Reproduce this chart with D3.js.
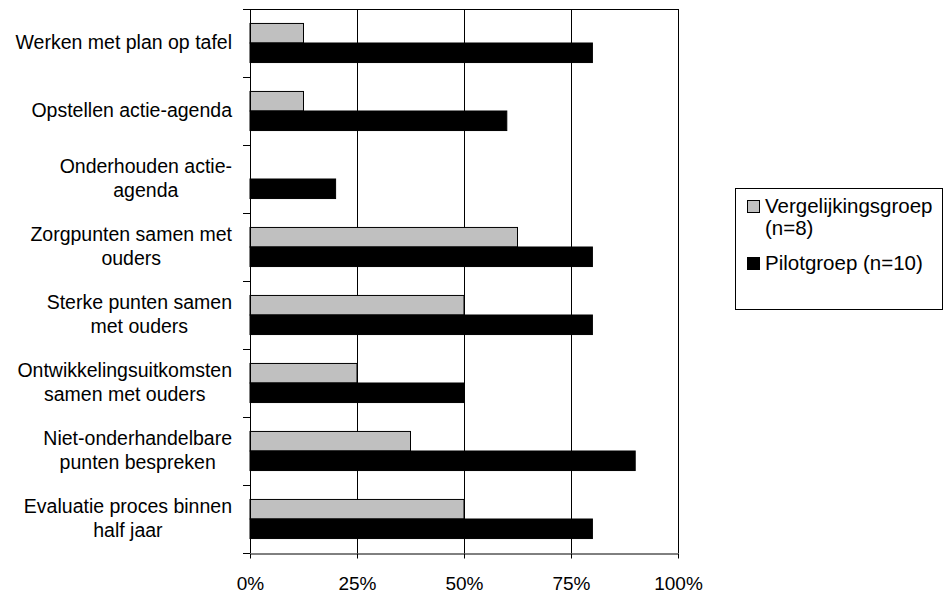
<!DOCTYPE html>
<html><head><meta charset="utf-8">
<script src="https://cdn.jsdelivr.net/npm/d3@7"></script>
<style>body{margin:0;background:#fff}svg{display:block}text{font-family:"Liberation Sans",Arial,sans-serif;fill:#000}</style>
</head><body>
<svg id="c" width="944" height="596"></svg>
<script>
const categories = [
  ["Werken met plan op tafel"],
  ["Opstellen actie-agenda"],
  ["Onderhouden actie-", "agenda"],
  ["Zorgpunten samen met", "ouders"],
  ["Sterke punten samen", "met ouders"],
  ["Ontwikkelingsuitkomsten", "samen met ouders"],
  ["Niet-onderhandelbare", "punten bespreken"],
  ["Evaluatie proces binnen", "half jaar"]
];
const seriesNames = ["Vergelijkingsgroep (n=8)", "Pilotgroep (n=10)"];
const vergelijking = [12.5, 12.5, 0, 62.5, 50, 25, 37.5, 50];
const pilot = [80, 60, 20, 80, 80, 50, 90, 80];
const tickValues = [0, 25, 50, 75, 100];
const colors = ["#c0c0c0", "#000000"];

const svg = d3.select("#c");
const L = 250, R = 678, T = 9, B = 553;
const x = d3.scaleLinear().domain([0, 100]).range([L, R]);
const keys = categories.map((c, i) => i);
const y0 = d3.scaleBand().domain(keys).range([T, B]).padding(0);
const y1 = d3.scaleBand().domain([0, 1]).range([0, y0.bandwidth()]).paddingInner(0).paddingOuter(0.74);
const values = [vergelijking, pilot];

// plot border top
svg.append("line").attr("x1", L).attr("x2", R).attr("y1", T + 0.5).attr("y2", T + 0.5).attr("stroke", "#000");
// gridlines
svg.append("g").selectAll("line").data(tickValues.slice(1)).join("line")
  .attr("x1", d => Math.round(x(d)) + 0.5).attr("x2", d => Math.round(x(d)) + 0.5)
  .attr("y1", T).attr("y2", B).attr("stroke", "#000").attr("stroke-width", 1);

// bars
const g = svg.append("g");
keys.forEach(i => {
  values.forEach((vals, s) => {
    if (vals[i] <= 0) return;
    g.append("rect")
      .attr("x", x(0))
      .attr("y", y0(i) + y1(s))
      .attr("width", x(vals[i]) - x(0))
      .attr("height", y1.bandwidth())
      .attr("fill", colors[s])
      .attr("stroke", "#000").attr("stroke-width", 1);
  });
});

// x axis
const xa = svg.append("g").attr("transform", `translate(0,${B + 0.5})`)
  .call(d3.axisBottom(x).tickValues(tickValues).tickFormat(d => d + "%").tickSize(5).tickSizeOuter(0));
xa.attr("font-family", null).attr("font-size", null);
xa.select(".domain").attr("stroke", "#000");
xa.selectAll(".tick line").attr("stroke", "#000");
xa.selectAll("text").attr("font-size", 19).attr("dy", null).attr("y", 36).attr("fill", "#000");

// y axis line and ticks (between categories)
svg.append("line").attr("x1", L + 0.5).attr("x2", L + 0.5).attr("y1", T).attr("y2", B).attr("stroke", "#000");
const bounds = keys.map(i => y0(i)).concat([B]);
svg.append("g").selectAll("line").data(bounds).join("line")
  .attr("x1", L - 7).attr("x2", L).attr("y1", d => Math.round(d) + 0.5).attr("y2", d => Math.round(d) + 0.5)
  .attr("stroke", "#000");

// category labels
const labelRight = 232, lh = 24;
keys.forEach(i => {
  const lines = categories[i];
  const cy = y0(i) + y0.bandwidth() / 2;
  const t = svg.append("text").attr("font-size", 19.5).attr("text-anchor", "middle");
  const tsp = lines.map((ln, k) => t.append("tspan").text(ln));
  const w = d3.max(tsp, s => s.node().getComputedTextLength());
  const cx = labelRight - w / 2;
  tsp.forEach((s, k) => s.attr("x", cx).attr("y", cy + 6 + (k - (lines.length - 1) / 2) * lh));
});

// legend
svg.append("rect").attr("x", 735.5).attr("y", 188.5).attr("width", 207).attr("height", 121)
  .attr("fill", "#fff").attr("stroke", "#000");
const legLines = [["Vergelijkingsgroep", "(n=8)"], ["Pilotgroep (n=10)"]];
const legY = [200, 257];
legLines.forEach((lines, s) => {
  svg.append("rect").attr("x", 747.5).attr("y", legY[s] + 0.5).attr("width", 12).attr("height", 12)
    .attr("fill", colors[s]).attr("stroke", "#000");
  lines.forEach((ln, k) => {
    svg.append("text").attr("x", 765).attr("y", legY[s] + 13 + k * 22).attr("font-size", 20.5).text(ln);
  });
});
</script>
</body></html>
